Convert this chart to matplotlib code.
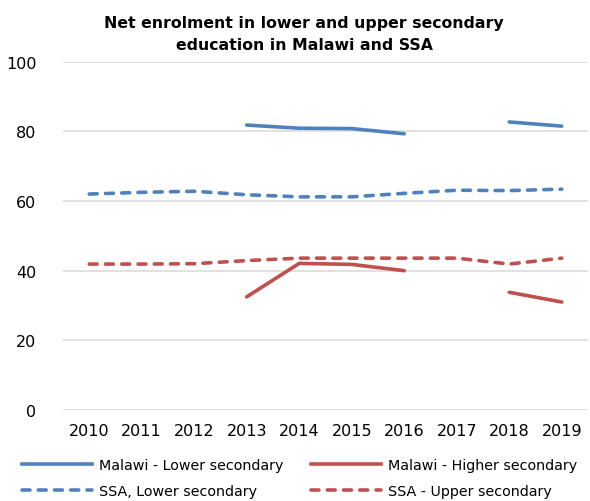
import numpy as np
import matplotlib
matplotlib.use("Agg")
import matplotlib.pyplot as plt
from matplotlib.lines import Line2D

plt.rcParams['font.family'] = ['DejaVu Sans']

# --- DATA ---
years = [2010, 2011, 2012, 2013, 2014, 2015, 2016, 2017, 2018, 2019]
year_labels = [str(y) for y in years]
nan = np.nan
malawi_lower = [nan, nan, nan, 81.8, 80.9, 80.8, 79.3, nan, 82.7, 81.5]
malawi_higher = [nan, nan, nan, 32.5, 42.1, 41.8, 40.0, nan, 33.8, 31.0]
ssa_lower = [62.0, 62.5, 62.8, 61.8, 61.2, 61.2, 62.2, 63.1, 63.0, 63.4]
ssa_upper = [41.9, 41.9, 42.0, 42.9, 43.6, 43.6, 43.6, 43.6, 41.9, 43.6]
y_ticks = [0, 20, 40, 60, 80, 100]

BLUE = "#4F81BD"
RED = "#C0504D"
GRID = "#D9D9D9"

fig = plt.figure(figsize=(5.90, 5.02), dpi=100)
ax = fig.add_axes([63 / 590, 1 - 411 / 502, 525 / 590, (411 - 62.7) / 502])

x = np.arange(len(years))
lw = 2.6
dash = (2.2, 2.3)
ax.plot(x, malawi_lower, color=BLUE, lw=lw, solid_capstyle='round')
ax.plot(x, malawi_higher, color=RED, lw=lw, solid_capstyle='round')
ax.plot(x, ssa_lower, color=BLUE, lw=lw, dashes=dash, dash_capstyle='round')
ax.plot(x, ssa_upper, color=RED, lw=lw, dashes=dash, dash_capstyle='round')

ax.set_xlim(-0.5, len(years) - 0.5)
ax.set_ylim(0, 100)
ax.set_yticks(y_ticks)
ax.set_xticks(x)
ax.set_xticklabels(year_labels)
ax.yaxis.grid(True, color=GRID, lw=1.1)
ax.set_axisbelow(True)
for s in ax.spines.values():
    s.set_visible(False)
ax.tick_params(axis='both', length=0, labelsize=11.5, colors='black')
ax.tick_params(axis='y', pad=19)
ax.tick_params(axis='x', pad=9)

fig.text(304 / 590, 1 - 34.5 / 502,
         "Net enrolment in lower and upper secondary\neducation in Malawi and SSA",
         ha='center', va='center', fontsize=11.3, fontweight='bold', linespacing=1.6)

# legend, two columns laid out row by row
handles = [
    Line2D([], [], color=BLUE, lw=lw),
    Line2D([], [], color=BLUE, lw=lw, dashes=dash, dash_capstyle='round'),
    Line2D([], [], color=RED, lw=lw),
    Line2D([], [], color=RED, lw=lw, dashes=dash, dash_capstyle='round'),
]
labels = ["Malawi - Lower secondary", "SSA, Lower secondary",
          "Malawi - Higher secondary", "SSA - Upper secondary"]
fig.legend(handles, labels, ncol=2, loc='center left',
           bbox_to_anchor=(12 / 590, 1 - 479 / 502), frameon=False,
           fontsize=10.3, handlelength=4.9, handletextpad=0.5,
           columnspacing=1.9, labelspacing=0.85, borderpad=0.2)

fig.savefig("out.png", dpi=100)
